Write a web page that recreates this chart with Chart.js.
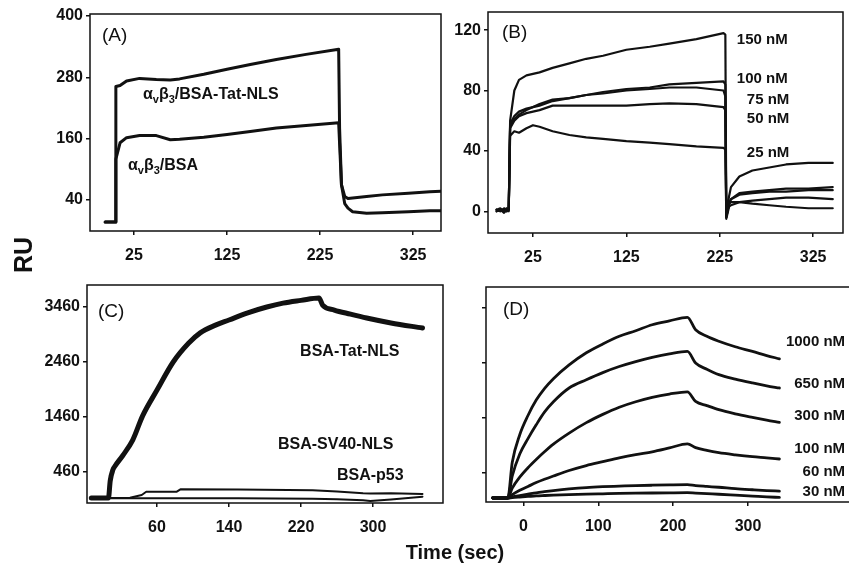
<!DOCTYPE html>
<html>
<head>
<meta charset="utf-8">
<title>SPR sensorgrams</title>
<script src="https://cdn.jsdelivr.net/npm/chart.js@4.4.1/dist/chart.umd.min.js"></script>
<style>
  html, body { margin: 0; padding: 0; background: #fff; }
  #page { position: relative; width: 849px; height: 573px; overflow: hidden; font-family: "Liberation Sans", Arial, sans-serif; }
  .panel { position: absolute; left: 0; top: 0; width: 849px; height: 573px; }
  .axis-title { position: absolute; font-weight: bold; color: #111; white-space: nowrap; text-align: center; }
  #ruTitle { left: -7px; top: 241px; width: 60px; line-height: 28px; font-size: 25px; transform: rotate(-90deg); }
  #timeTitle { left: 355px; top: 540px; width: 200px; line-height: 24px; font-size: 20px; }
</style>
</head>
<body>
<div id="page">
  <div class="panel"><canvas id="chartA"></canvas></div>
  <div class="panel"><canvas id="chartB"></canvas></div>
  <div class="panel"><canvas id="chartC"></canvas></div>
  <div class="panel"><canvas id="chartD"></canvas></div>
  <div class="axis-title" id="ruTitle">RU</div>
  <div class="axis-title" id="timeTitle">Time (sec)</div>
</div>
<script>
// Panel A: avb3 on BSA-Tat-NLS vs BSA
const aTicksX = [25, 125, 225, 325];
const aTicksY = [40, 160, 280, 400];
const aTime = [-6, 5, 5.5, 10, 17, 31, 49, 64, 74, 100, 125, 150, 178, 210, 245, 246, 248, 251.5, 255, 260, 275, 292, 320, 343, 355];
const aTatNls = [-3, -3, 262, 264, 273, 278, 276, 275, 277, 286, 296, 305, 315, 325, 335, 180, 70, 47, 43, 44, 47, 50, 53, 56, 57];
const aBsa = [-3, -3, 120, 152, 162, 166, 166, 158, 159, 163, 168, 174, 181, 186, 191, 150, 70, 33, 24, 17, 14, 15, 17, 19, 19];

// Panel B: concentration series
const bTicksX = [25, 125, 225, 325];
const bTicksY = [0, 40, 80, 120];
const bTime = [-14, -10, -6, -3, -1, 0.5, 5, 10, 18, 25, 32, 46, 64, 82, 100, 125, 150, 171, 200, 229, 231, 232, 235, 237, 246, 260, 278, 296, 320, 346];
const b150 = [1, 2, 0, 2, 1, 60, 80, 87, 90, 91, 92, 95, 98, 101, 103, 107, 109, 111, 114, 118, 117, -2, 10, 16, 23, 27, 29, 31, 32, 32];
const b100 = [0, 1, 1, 0, 2, 58, 63, 66, 68, 69, 70, 73, 75, 77, 79, 81, 82, 84, 85, 86, 84, -4, 5, 8, 12, 13, 14, 15, 15, 16];
const b75 = [1, 0, 2, 1, 0, 57, 61, 64, 67, 69, 71, 74, 75, 77, 78, 80, 81, 82, 82, 80, 76, -4, 5, 8, 11, 12, 13, 13, 14, 14];
const b50 = [0, 1, -1, 1, 1, 55, 60, 63, 65, 66, 67, 70, 70, 70, 70, 70, 71, 71.5, 71, 69, 67, -5, 3, 4, 6, 7, 8, 9, 9, 8];
const b25 = [1, 0, 1, 0, 1, 50, 53, 52, 55, 57, 56, 53, 50.5, 49, 48, 46.5, 45.5, 44.5, 43, 42, 41, -3, 5, 6, 6, 5, 4, 3, 2, 2];

// Panel C: NLS conjugates
const cTicksX = [60, 140, 220, 300];
const cTicksY = [460, 1460, 2460, 3460];
const cTatTime = [-13, 6, 8, 11, 13, 22, 33, 44, 60, 78, 95, 108, 125, 140, 160, 182, 200, 220, 240, 244, 257, 275, 293, 320, 355];
const cTatNls = [-15, -15, 300, 500, 560, 760, 1040, 1480, 1950, 2460, 2800, 2990, 3130, 3224, 3350, 3460, 3530, 3580, 3624, 3496, 3405, 3330, 3260, 3170, 3078];
const cCtrlTime = [-14, 30, 43, 48, 82, 86, 150, 233, 260, 289, 297, 320, 355];
const cSv40Nls = [-18, -10, 42, 100, 102, 145, 140, 130, 105, 73, 70, 75, 60];
const cP53 = [-18, -18, -18, -18, -18, -18, -18, -25, -35, -55, -67, -40, 11];

// Panel D: concentration series
const dTicksX = [0, 100, 200, 300];
const dTicksY = [460, 1460, 2460, 3460];
const dTime = [-41, -21, -15, -5, 6, 17, 28, 40, 61, 84, 106, 128, 150, 172, 195, 219, 230, 245, 261, 283, 306, 325, 342];
const d1000 = [0, 0, 650, 1150, 1500, 1780, 1990, 2170, 2420, 2640, 2800, 2940, 3040, 3150, 3220, 3285, 3060, 2940, 2850, 2750, 2665, 2590, 2530];
const d650 = [0, 0, 400, 800, 1080, 1330, 1560, 1750, 2000, 2150, 2280, 2390, 2480, 2556, 2620, 2665, 2454, 2340, 2242, 2160, 2091, 2040, 2000];
const d300 = [0, 0, 180, 380, 550, 700, 840, 980, 1180, 1370, 1520, 1650, 1750, 1830, 1890, 1930, 1756, 1680, 1605, 1530, 1465, 1415, 1375];
const d100 = [0, 0, 60, 140, 210, 280, 340, 400, 500, 590, 660, 730, 790, 840, 910, 985, 915, 865, 824, 785, 751, 730, 709];
const d60 = [0, 0, 20, 45, 70, 95, 115, 135, 165, 190, 205, 215, 225, 232, 238, 242, 225, 210, 195, 170, 150, 135, 125];
const d30 = [0, 0, 8, 18, 28, 38, 45, 52, 62, 70, 76, 82, 87, 91, 94, 96, 88, 78, 68, 52, 35, 20, 10];

const INK = '#111';
const FONT_FAMILY = '"Liberation Sans", Arial, sans-serif';
const PAGE_W = 849, PAGE_H = 573;
const Y_AXIS_W = 60, X_AXIS_H = 40;

const greekA = (rest) => [{ t: 'α' }, { t: 'v', sub: true }, { t: 'β' }, { t: '3', sub: true }, { t: rest }];

function pts(xs, ys) {
  return xs.map((x, i) => ({ x: x, y: ys[i] }));
}

function series(xs, ys, width, smooth) {
  return {
    data: pts(xs, ys),
    borderColor: INK,
    borderWidth: width,
    pointRadius: 0,
    fill: false,
    tension: 0,
    cubicInterpolationMode: smooth ? 'monotone' : 'default',
    borderJoinStyle: 'round',
    borderCapStyle: 'round'
  };
}

function axis(min, max, tickValues, isX, showLabels) {
  return {
    type: 'linear',
    min: min,
    max: max,
    afterBuildTicks: s => { s.ticks = tickValues.map(v => ({ value: v })); },
    afterFit: s => { if (isX) s.height = X_AXIS_H; else s.width = Y_AXIS_W; },
    ticks: {
      color: INK,
      font: { family: FONT_FAMILY, size: 16, weight: 'bold', lineHeight: 1 },
      padding: isX ? 13 : 3,
      maxRotation: 0,
      autoSkip: false,
      callback: v => showLabels ? String(v) : ''
    },
    grid: { drawOnChartArea: false, drawTicks: true, tickLength: 4, color: INK, lineWidth: 1.5 },
    border: { display: false }
  };
}

// frame around the plot area
const boxPlugin = {
  id: 'panelBox',
  beforeDatasetsDraw(chart, args, opts) {
    const { left, top, right, bottom } = chart.chartArea;
    const ctx = chart.ctx;
    ctx.save();
    ctx.strokeStyle = INK;
    ctx.lineWidth = 1.5;
    ctx.beginPath();
    if (opts.openRight) {
      ctx.moveTo(right, top);
      ctx.lineTo(left, top);
      ctx.lineTo(left, bottom);
      ctx.lineTo(right, bottom);
    } else {
      ctx.rect(left, top, right - left, bottom - top);
    }
    ctx.stroke();
    ctx.restore();
  }
};

// curve labels, placed in data coordinates
const textPlugin = {
  id: 'panelText',
  afterDatasetsDraw(chart, args, opts) {
    const ctx = chart.ctx;
    const xs = chart.scales.x, ys = chart.scales.y;
    ctx.save();
    ctx.fillStyle = INK;
    ctx.textBaseline = 'middle';
    (opts.items || []).forEach(item => {
      const parts = item.parts || [{ t: item.text }];
      const size = item.size || 15;
      const weight = item.weight || 'bold';
      const fontFor = sub => weight + ' ' + (sub ? Math.round(size * 0.7) : size) + 'px ' + FONT_FAMILY;
      const widths = parts.map(p => { ctx.font = fontFor(p.sub); return ctx.measureText(p.t).width; });
      const total = widths.reduce((a, b) => a + b, 0);
      let px = xs.getPixelForValue(item.x);
      const py = ys.getPixelForValue(item.y);
      if (item.align === 'right') px -= total;
      parts.forEach((p, i) => {
        ctx.font = fontFor(p.sub);
        ctx.fillText(p.t, px, p.sub ? py + size * 0.3 : py);
        px += widths[i];
      });
    });
    ctx.restore();
  }
};

function buildPanel(canvasId, cfg) {
  const b = cfg.box;
  return new Chart(document.getElementById(canvasId), {
    type: 'line',
    data: { datasets: cfg.datasets },
    options: {
      responsive: true,
      maintainAspectRatio: false,
      animation: false,
      layout: {
        padding: {
          left: b.left - Y_AXIS_W,
          top: b.top,
          right: PAGE_W - b.right,
          bottom: PAGE_H - b.bottom - X_AXIS_H
        }
      },
      plugins: {
        legend: { display: false },
        tooltip: { enabled: false },
        panelBox: { openRight: !!cfg.openRight },
        panelText: { items: cfg.labels }
      },
      scales: {
        x: axis(cfg.xRange[0], cfg.xRange[1], cfg.xTicks, true, true),
        y: axis(cfg.yRange[0], cfg.yRange[1], cfg.yTicks, false, cfg.yLabels !== false)
      }
    },
    plugins: [boxPlugin, textPlugin]
  });
}

buildPanel('chartA', {
  box: { left: 90, top: 14, right: 441, bottom: 231 },
  xRange: [-22.3, 355], yRange: [-20.7, 404],
  xTicks: aTicksX, yTicks: aTicksY,
  datasets: [series(aTime, aTatNls, 3), series(aTime, aBsa, 3)],
  labels: [
    { text: '(A)', x: -9.4, y: 361, size: 19, weight: 'normal' },
    { parts: greekA('/BSA-Tat-NLS'), x: 34.7, y: 245.5, size: 16 },
    { parts: greekA('/BSA'), x: 18.5, y: 106.5, size: 16 }
  ]
});

buildPanel('chartB', {
  box: { left: 488, top: 12, right: 843, bottom: 233 },
  xRange: [-23.2, 357], yRange: [-14.4, 132],
  xTicks: bTicksX, yTicks: bTicksY,
  datasets: [
    series(bTime, b150, 2.2), series(bTime, b100, 2.2), series(bTime, b75, 2.2),
    series(bTime, b50, 2.2), series(bTime, b25, 2.2)
  ],
  labels: [
    { text: '(B)', x: -8.2, y: 118, size: 19, weight: 'normal' },
    { text: '150 nM', x: 243.3, y: 113.5 },
    { text: '100 nM', x: 243.3, y: 87.6 },
    { text: '75 nM', x: 254, y: 73.7 },
    { text: '50 nM', x: 254, y: 61.1 },
    { text: '25 nM', x: 254, y: 38.8 }
  ]
});

buildPanel('chartC', {
  box: { left: 87, top: 285, right: 443, bottom: 503 },
  xRange: [-17.8, 377.8], yRange: [-104, 3860],
  xTicks: cTicksX, yTicks: cTicksY,
  datasets: [
    series(cTatTime, cTatNls, 5, true),
    series(cCtrlTime, cSv40Nls, 2),
    series(cCtrlTime, cP53, 2)
  ],
  labels: [
    { text: '(C)', x: -5.6, y: 3369, size: 19, weight: 'normal' },
    { text: 'BSA-Tat-NLS', x: 219, y: 2642, size: 16 },
    { text: 'BSA-SV40-NLS', x: 194.4, y: 951, size: 16 },
    { text: 'BSA-p53', x: 260, y: 387, size: 16 }
  ]
});

buildPanel('chartD', {
  box: { left: 486, top: 287, right: 849, bottom: 502 },
  xRange: [-50.1, 435], yRange: [-73, 3836],
  xTicks: dTicksX, yTicks: dTicksY, yLabels: false, openRight: true,
  datasets: [
    series(dTime, d1000, 2.8, true), series(dTime, d650, 2.8, true), series(dTime, d300, 2.8, true),
    series(dTime, d100, 2.8, true), series(dTime, d60, 2.8, true), series(dTime, d30, 2.8, true)
  ],
  labels: [
    { text: '(D)', x: -27.4, y: 3418, size: 19, weight: 'normal' },
    { text: '1000 nM', x: 429.8, y: 2836, align: 'right' },
    { text: '650 nM', x: 429.8, y: 2073, align: 'right' },
    { text: '300 nM', x: 429.8, y: 1491, align: 'right' },
    { text: '100 nM', x: 429.8, y: 891, align: 'right' },
    { text: '60 nM', x: 429.8, y: 473, align: 'right' },
    { text: '30 nM', x: 429.8, y: 109, align: 'right' }
  ]
});
</script>
</body>
</html>
